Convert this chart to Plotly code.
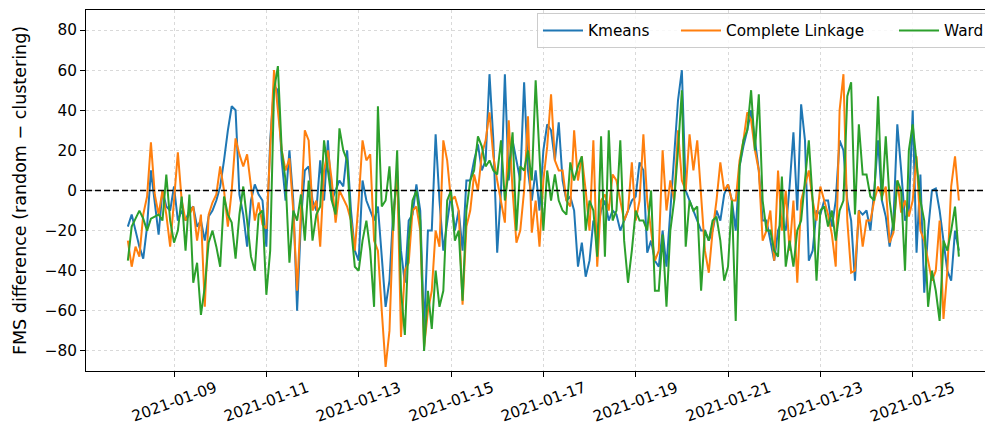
import pandas as pd
import plotly.graph_objects as go

# Two-hourly FMS differences (random - clustering) per clustering method
times = pd.date_range("2021-01-08 00:00", periods=217, freq="2h")

kmeans = [
    -18, -12, -20, -28, -34, -18, 10, -5, -22, 0, -8, -10, 2, -15, -10, -15, -10, -8, -18, -15,
    -25, -13, -10, -5, 2, 15, 30, 42, 40, -2, -12, -28, -5, 3, -2, -5, -28, 25, 52, 50,
    15, -5, 20, -5, -60, -15, 10, 12, -5, -10, 15, -5, 25, -5, 0, 5, 2, 20, -10, -30,
    -35, 5, -5, -10, -15, -8, -35, -58, -45, -10, 5, -30, -46, -15, -12, 3, -10, -70, -20, -20,
    28, -5, -30, -15, -2, -20, -10, -30, 5, 5, 15, 23, 10, 15, 58, 25, -31, 0, 58, 5,
    25, 15, 5, 54, 10, -5, 10, -10, 20, 33, 30, 15, 34, 5, -5, -3, -10, -38, -26, -43,
    -35, -15, -20, -10, -5, -15, -10, -12, -20, -15, -10, -5, -3, 14, 10, -31, -25, -35, -38, -20,
    -38, -10, 20, 45, 60, 0, -5, -10, -15, -20, -20, -25, -20, -10, -15, -2, 3, -5, -20, 12,
    22, 30, 40, 25, 10, -15, -15, -25, -35, -20, -15, -20, 2, 29, -10, 43, 25, -35, -30, -10,
    -12, -5, -5, -18, -5, 25, 20, -5, -15, -45, -10, -12, -10, -20, 0, 25, -5, -13, -28, -15,
    33, 10, -15, -10, 40, -31, 8, -51, -20, 0, 1, -10, -25, -40, -45, -20, -30,
]

complete_linkage = [
    -25, -38, -28, -33, -12, -3, 24, -2, -12, 0, -12, -28, -5, 19, -5, -15, -12, -8, -25, -12,
    -58, -12, -6, -2, 12, 0, -18, 0, 26, 18, 12, 18, 2, -15, -6, -17, -19, 20, 60, 40,
    20, 10, 16, -10, -50, -10, 30, 25, -10, -5, -28, 10, 20, 5, -16, 0, -4, -8, -15, -30,
    -5, 25, 15, 18, -25, -30, -60, -88, -70, -15, 10, -73, -40, -36, -10, -8, -20, -78, -60, -50,
    -20, -28, 25, 15, -5, -3, -10, -57, -18, -10, 8, 0, 18, 25, 39, 17, 5, -5, -16, 35,
    0, -26, -20, 0, 37, -21, -5, -28, 5, 22, 48, 15, 10, 10, -5, -8, 30, 5, 17, 0,
    -20, 25, -38, -5, -2, -10, 8, 5, -5, -15, -10, 14, -15, -5, 28, -5, -20, -35, -30, 20,
    -10, 5, -5, 30, 5, 0, 28, 10, 25, -5, -30, -41, -20, -5, 14, 0, 3, -5, -5, 15,
    25, 39, 35, 20, 10, -25, -20, -10, -35, 10, -20, 0, -30, -5, -46, -5, 2, 10, -5, -15,
    2, -5, -12, -22, -38, 40, 58, -15, -41, -40, -10, -28, -15, -15, -5, 2, -3, 2, -26, -21,
    5, -11, -5, -13, -5, 17, -20, -25, -36, -45, -40, -15, -64, -40, 2, 17, -5,
]

ward = [
    -35, -18, -14, -10, -14, -20, -14, -13, -12, -15, 8, -15, -26, -20, -3, -30, -2, -46, -36, -62,
    -48, -26, -20, -28, -38, -3, -12, -16, -34, -12, 2, -15, -33, -40, -12, -10, -52, -30, 50, 62,
    20, 5, -36, -10, -15, -2, -25, 5, -25, -12, -8, 25, 10, -5, -12, 31, 20, 15, -18, -38,
    -40, -25, -15, -30, -58, 42, -8, -5, 12, -20, 20, -50, -72, -25, -5, 0, -15, -80, -50, -69,
    -40, -58, -50, -5, 0, -25, -20, -55, -10, 5, 10, 27, 22, 12, 15, 10, 8, 25, -5, 10,
    29, -20, 12, 10, 20, 5, 55, 20, -20, 10, -5, 8, -5, -10, -12, 14, 5, 12, 17, -20,
    -5, -10, -33, 27, -33, 30, -15, -10, 25, -25, -46, -30, -10, -15, -15, -20, 0, -50, -50, -22,
    -58, -20, -5, 20, 50, -28, -5, -10, -8, -50, -20, -25, -15, -13, -25, -45, -38, -5, -65, 12,
    25, 30, 50, 20, 48, -5, -20, -20, -30, -33, 7, -38, -25, -38, -20, -15, 5, 25, -5, -45,
    -10, -8, -18, -10, -25, -10, -5, 47, 54, -12, 33, 8, 8, -3, -5, 47, -5, 27, -5, -20,
    5, 0, -40, 20, 33, 15, -5, -15, -58, -40, -50, -65, -25, -30, -20, -8, -33,
]

series_names = ["Kmeans", "Complete Linkage", "Ward"]
series_colors = ["#1f77b4", "#ff7f0e", "#2ca02c"]
legend_widths = [83, 163, 120]

tick_dates = ["2021-01-09", "2021-01-11", "2021-01-13", "2021-01-15", "2021-01-17",
              "2021-01-19", "2021-01-21", "2021-01-23", "2021-01-25"]
y_ticks = [-80, -60, -40, -20, 0, 20, 40, 60, 80]

W, H = 985, 428
M_L, M_R, M_T, M_B = 86, 0, 10, 57
FONT = "DejaVu Sans"
TICK_SIZE = 15.3

fig = go.Figure()
for name, vals, color, lw in zip(series_names, [kmeans, complete_linkage, ward],
                                 series_colors, legend_widths):
    fig.add_trace(go.Scatter(
        x=times, y=vals, mode="lines", name=name,
        line=dict(color=color, width=2), legendwidth=lw,
    ))

fig.add_hline(y=0, line=dict(color="black", width=1.5, dash="6px,3px"))

# Date labels, rotated and centred under each tick
for d in tick_dates:
    fig.add_annotation(
        x=d, y=0, xref="x", yref="paper", text=d, textangle=-20,
        showarrow=False, xanchor="center", yanchor="middle", yshift=-31,
        font=dict(family=FONT, size=TICK_SIZE, color="black"),
    )

plot_w = W - M_L - M_R
plot_h = H - M_T - M_B

fig.update_layout(
    width=W, height=H,
    margin=dict(l=M_L, r=M_R, t=M_T, b=M_B, autoexpand=False),
    paper_bgcolor="white", plot_bgcolor="white",
    font=dict(family=FONT, size=TICK_SIZE, color="black"),
    showlegend=True,
    legend=dict(
        orientation="h", x=(537 - M_L) / plot_w, y=(plot_h - 3) / plot_h,
        xanchor="left", yanchor="top", itemwidth=40,
        bgcolor="rgba(255,255,255,0.8)", bordercolor="#cccccc", borderwidth=1,
        font=dict(family=FONT, size=TICK_SIZE, color="black"),
    ),
    xaxis=dict(
        range=["2021-01-07 02:15", "2021-01-26 13:35"],
        tickvals=tick_dates, showticklabels=False,
        ticks="outside", ticklen=5, tickwidth=1, tickcolor="black",
        showline=True, linecolor="black", linewidth=1, mirror=True,
        showgrid=True, gridcolor="#d9d9d9", gridwidth=0.8, griddash="dot",
        zeroline=False,
    ),
    yaxis=dict(
        range=[-90, 90], tickvals=y_ticks,
        ticks="outside", ticklen=5, tickwidth=1, tickcolor="black",
        showline=True, linecolor="black", linewidth=1,
        showgrid=True, gridcolor="#d9d9d9", gridwidth=0.8, griddash="dot",
        zeroline=False,
        tickfont=dict(family=FONT, size=TICK_SIZE, color="black"),
        title=dict(text="FMS difference (random \u2212 clustering)",
                   font=dict(family=FONT, size=17.5, color="black"), standoff=13),
    ),
)

fig.write_html("out.html")
